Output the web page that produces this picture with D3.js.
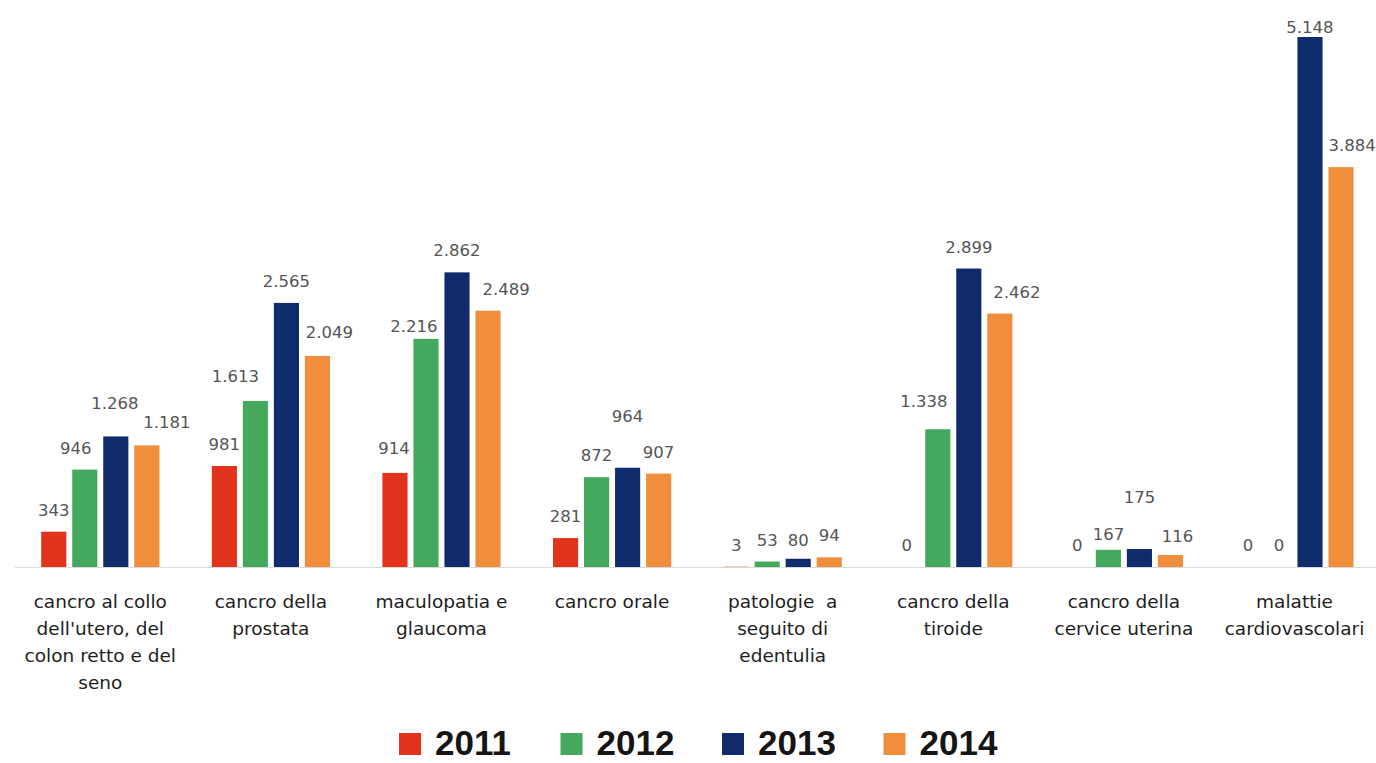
<!DOCTYPE html>
<html>
<head>
<meta charset="utf-8">
<script src="https://cdn.jsdelivr.net/npm/d3@7"></script>
<style>
  html, body { margin: 0; padding: 0; background: #ffffff; }
  svg { display: block; }
</style>
</head>
<body>
<svg id="chart" width="1376" height="763"></svg>
<script>
// ---- data ----
const categories = [
  "cancro al collo\ndell'utero, del\ncolon retto e del\nseno",
  "cancro della\nprostata",
  "maculopatia e\nglaucoma",
  "cancro orale",
  "patologie  a\nseguito di\nedentulia",
  "cancro della\ntiroide",
  "cancro della\ncervice uterina",
  "malattie\ncardiovascolari"
];
const years = ["2011", "2012", "2013", "2014"];
const values2011 = [343, 981, 914, 281, 3, 0, 0, 0];
const values2012 = [946, 1613, 2216, 872, 53, 1338, 167, 0];
const values2013 = [1268, 2565, 2862, 964, 80, 2899, 175, 5148];
const values2014 = [1181, 2049, 2489, 907, 94, 2462, 116, 3884];
const seriesValues = [values2011, values2012, values2013, values2014];

// ---- styling / layout ----
const colors = ["#e2341d", "#44a85d", "#0f2b6c", "#f18e3b"];
// label collision nudges [dx, dy] keyed "categoryIndex-seriesIndex"
const labelNudge = {
  "0-1": [-9, 0], "0-2": [-1, -11], "0-3": [20, -1],
  "1-1": [-20, -3], "1-3": [12, -2],
  "2-0": [-1, -3], "2-1": [-12, 9], "2-3": [18, 0],
  "3-2": [0, -30],
  "4-2": [0, 3],
  "5-1": [-14, -6], "5-3": [17, 0],
  "6-1": [0, 6], "6-2": [0, -30], "6-3": [7, 3],
  "7-2": [0, 12], "7-3": [11, 0]
};

const svg = d3.select("#chart");
const baseY = 567;
const topY = 37;

const x = d3.scaleBand()
  .domain(d3.range(categories.length))
  .range([15, 15 + 8 * 170.6])
  .padding(0);

const xs = d3.scaleBand()
  .domain(years)
  .range([0, x.bandwidth()])
  .paddingInner(0.19)
  .paddingOuter(0.845);

const allVals = seriesValues.flat();
const y = d3.scaleLinear()
  .domain([0, d3.max(allVals)])
  .range([baseY, topY]);

const itLocale = d3.formatLocale({ decimal: ",", thousands: ".", grouping: [3], currency: ["€", ""] });
const fmt = itLocale.format(",d");

// baseline
svg.append("line")
  .attr("x1", 15).attr("x2", 1376)
  .attr("y1", baseY + 0.5).attr("y2", baseY + 0.5)
  .attr("stroke", "#d9d9d9").attr("stroke-width", 1);

// bars
const groups = svg.append("g").selectAll("g")
  .data(categories.map((c, i) => i))
  .join("g")
  .attr("transform", i => `translate(${x(i)},0)`);

groups.selectAll("rect")
  .data(i => years.map((yr, s) => ({ i, s, yr, v: seriesValues[s][i] })))
  .join("rect")
  .attr("x", d => xs(d.yr))
  .attr("width", xs.bandwidth())
  .attr("y", d => y(d.v))
  .attr("height", d => baseY - y(d.v))
  .attr("fill", d => colors[d.s]);

// value labels
groups.selectAll("text.val")
  .data(i => years.map((yr, s) => ({ i, s, yr, v: seriesValues[s][i] })))
  .join("text")
  .attr("class", "val")
  .attr("x", d => xs(d.yr) + xs.bandwidth() / 2 + (labelNudge[d.i + "-" + d.s] || [0, 0])[0])
  .attr("y", d => y(d.v) - 16 + (labelNudge[d.i + "-" + d.s] || [0, 0])[1])
  .attr("text-anchor", "middle")
  .attr("font-family", "DejaVu Sans, sans-serif")
  .attr("font-size", "16.5px")
  .attr("fill", "#555555")
  .text(d => fmt(d.v));

// category labels
const catLabels = svg.append("g").selectAll("text")
  .data(categories.map((c, i) => ({ c, i })))
  .join("text")
  .attr("x", d => x(d.i) + x.bandwidth() / 2)
  .attr("y", 608)
  .attr("text-anchor", "middle")
  .attr("font-family", "DejaVu Sans, sans-serif")
  .attr("font-size", "18.5px")
  .attr("fill", "#1e1e1e");

catLabels.selectAll("tspan")
  .data(d => d.c.split("\n").map((line, k) => ({ line, k, cx: x(d.i) + x.bandwidth() / 2 })))
  .join("tspan")
  .attr("x", d => d.cx)
  .attr("dy", d => d.k === 0 ? 0 : 27)
  .attr("xml:space", "preserve")
  .style("white-space", "pre")
  .text(d => d.line);

// legend
const legend = svg.append("g").selectAll("g")
  .data(years.map((yr, s) => ({ yr, s })))
  .join("g")
  .attr("transform", d => `translate(${399 + d.s * 161.5},0)`);

legend.append("rect")
  .attr("x", 0).attr("y", 733)
  .attr("width", 22).attr("height", 22)
  .attr("fill", d => colors[d.s]);

legend.append("text")
  .attr("x", 36).attr("y", 755)
  .attr("font-family", "Liberation Sans, Arial, sans-serif")
  .attr("font-weight", "bold")
  .attr("font-size", "35px")
  .attr("fill", "#151515")
  .text(d => d.yr);
</script>
</body>
</html>
